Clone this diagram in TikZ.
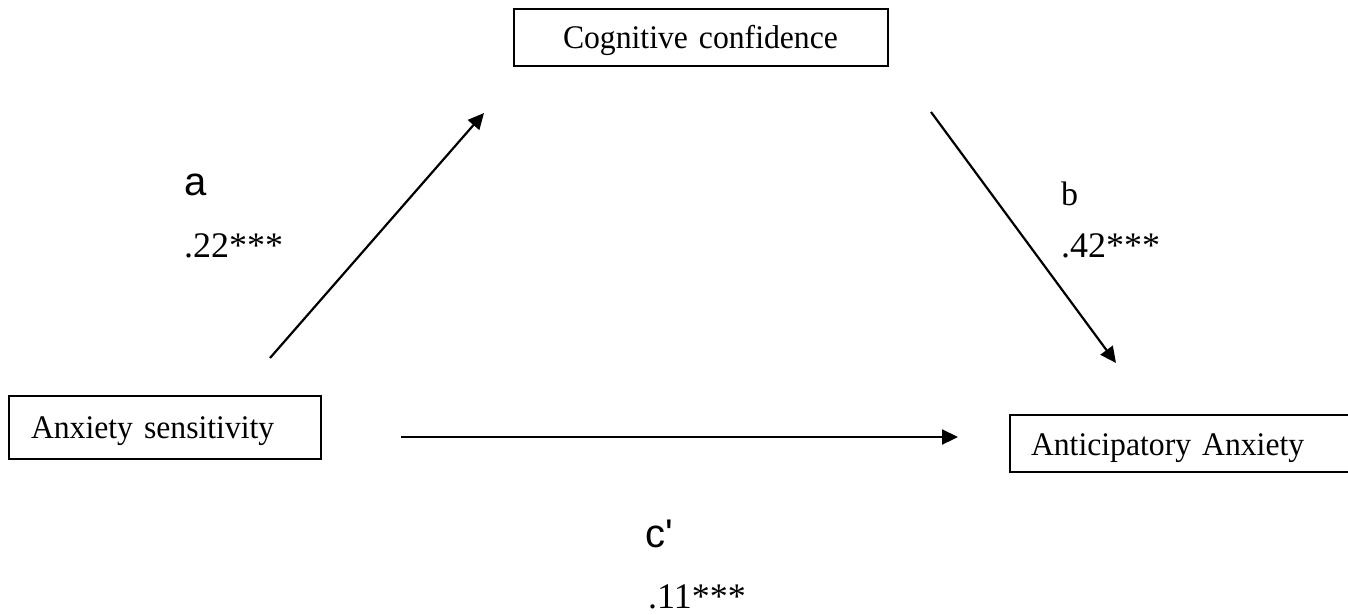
\documentclass[tikz,border=0pt]{standalone}
\usepackage{fontspec}
\setmainfont{Liberation Serif}
\newfontfamily\boxfont[FakeStretch=0.96]{Liberation Serif}
\newfontfamily\arialfont{Liberation Sans}
\usetikzlibrary{arrows.meta}
\tikzset{
  box/.style={draw, line width=2pt, inner ysep=0pt, align=left,
    font=\boxfont\fontsize{33}{38}\selectfont},
  lbl/.style={anchor=base west, inner sep=0pt},
  coef/.style={lbl, font=\fontsize{36}{40}\selectfont},
  letter/.style={lbl, font=\arialfont\fontsize{40}{44}\selectfont},
  conn/.style={line width=2.2pt, -{Triangle[length=16pt,width=15pt]}}
}
\begin{document}
\begin{tikzpicture}[x=1pt,y=-1pt]
\useasboundingbox (0,0) rectangle (1348,615);
\clip (0,0) rectangle (1348,615);
\fill[white] (0,0) rectangle (1348,615);
% boxes (text height = baseline - top, text depth = bottom - baseline)
\node[box, anchor=north west, inner xsep=49pt, text width=276pt,
      text height=40pt, text depth=17pt] (cc) at (513,8) {Cognitive confidence};
\node[box, anchor=north west, inner xsep=22pt, text width=268pt,
      text height=42pt, text depth=21pt] (as) at (8,395) {Anxiety sensitivity};
\node[box, anchor=north west, inner xsep=21pt, text width=320pt,
      text height=40pt, text depth=17pt] (aa) at (1009,414) {Anticipatory Anxiety};
% connector end points
\coordinate (a1) at (270,358);
\coordinate (a2) at (484,113);
\coordinate (b1) at (931,112);
\coordinate (b2) at (1116,363);
\coordinate (c1) at (401,437);
\coordinate (c2) at (958,437);
\draw[conn] (a1) -- (a2);
\draw[conn] (b1) -- (b2);
\draw[conn] (c1) -- (c2);
% labels
\node[letter] (la) at (184,195) {a};
\node[coef] (va) at (184,257) {.22***};
\node[lbl, font=\fontsize{34}{38}\selectfont] (lb) at (1061,205) {b};
\node[coef] (vb) at (1061,257) {.42***};
\node[letter] (lc) at (645,547) {c'};
\node[coef] (vc) at (648,608) {.11***};
\end{tikzpicture}
\end{document}
